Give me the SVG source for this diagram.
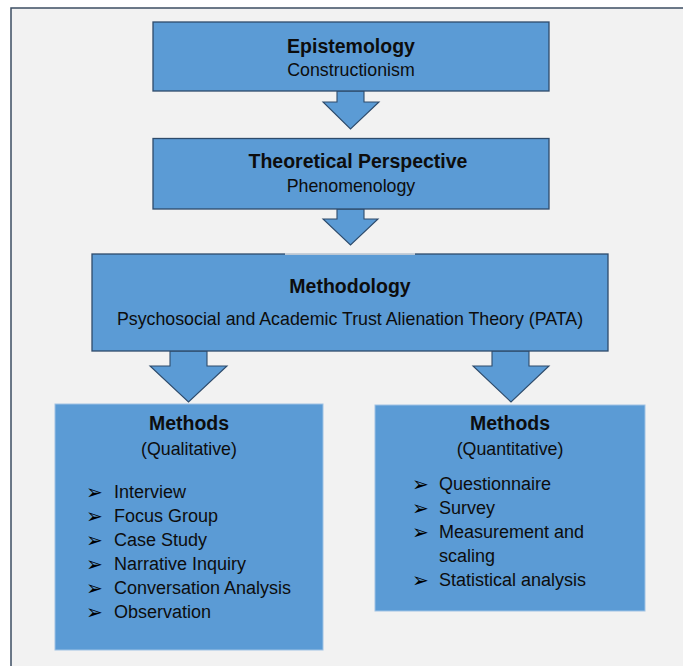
<svg xmlns="http://www.w3.org/2000/svg" width="683" height="666" viewBox="0 0 683 666">
  <style>
    .box { fill: #5b9bd5; stroke: #2e4b6b; stroke-width: 1.3; }
    .lbox { fill: #5b9bd5; stroke: #9fc2e4; stroke-width: 1; }
    .arrow { fill: #5b9bd5; stroke: #2e4b6b; stroke-width: 1.1; stroke-linejoin: miter; }
    text { font-family: "Liberation Sans", Arial, sans-serif; fill: #0d0d0d; }
    .t { font-size: 19.5px; font-weight: bold; text-anchor: middle; }
    .s { font-size: 17.8px; text-anchor: middle; }
    .i { font-size: 18px; }
    .b { font-family: "DejaVu Sans", sans-serif; font-size: 20px; fill: #000; }
  </style>
  <rect x="0" y="0" width="683" height="666" fill="#ffffff"/>
  <rect x="11" y="8" width="680" height="670" fill="#f2f2f2" stroke="#3c4e63" stroke-width="1.5"/>

  <g id="connectors">
    <polygon class="arrow" points="337,91 364,91 364,102 379,102 350.5,129 323,102 337,102"/>
    <polygon class="arrow" points="337,209 364,209 364,219 378,219 350.5,245 323,219 337,219"/>
    <polygon class="arrow" points="170,351 207,351 207,366 227,366 188.5,402 150,366 170,366"/>
    <polygon class="arrow" points="492,351 529,351 529,366 549,366 511,402 473,366 492,366"/>
  </g>

  <g id="epistemology">
    <rect class="box" x="153" y="22" width="396" height="69"/>
    <text class="t" x="351" y="53">Epistemology</text>
    <text class="s" x="351" y="76">Constructionism</text>
  </g>

  <g id="theoretical-perspective">
    <rect class="box" x="153" y="138.5" width="396" height="70.5"/>
    <text class="t" x="358" y="168">Theoretical Perspective</text>
    <text class="s" x="351" y="192">Phenomenology</text>
  </g>

  <g id="methodology">
    <rect class="box" x="92" y="254" width="516" height="97"/>
    <line x1="285" y1="254" x2="415" y2="254" stroke="#e4e8ec" stroke-width="1.5"/>
    <text class="t" x="350" y="293">Methodology</text>
    <text class="s" x="350" y="325">Psychosocial and Academic Trust Alienation Theory (PATA)</text>
  </g>

  <g id="methods-qualitative">
    <rect class="lbox" x="55" y="404" width="268" height="246"/>
    <text class="t" x="189" y="430">Methods</text>
    <text class="s" x="189" y="455">(Qualitative)</text>
    <text class="b" x="86" y="499">➢</text>
    <text class="i" x="114" y="498">Interview</text>
    <text class="b" x="86" y="523">➢</text>
    <text class="i" x="114" y="522">Focus Group</text>
    <text class="b" x="86" y="547">➢</text>
    <text class="i" x="114" y="546">Case Study</text>
    <text class="b" x="86" y="571">➢</text>
    <text class="i" x="114" y="570">Narrative Inquiry</text>
    <text class="b" x="86" y="595">➢</text>
    <text class="i" x="114" y="594">Conversation Analysis</text>
    <text class="b" x="86" y="619">➢</text>
    <text class="i" x="114" y="618">Observation</text>
  </g>

  <g id="methods-quantitative">
    <rect class="lbox" x="375" y="405" width="270" height="206"/>
    <text class="t" x="510" y="430">Methods</text>
    <text class="s" x="510" y="455">(Quantitative)</text>
    <text class="b" x="412" y="491">➢</text>
    <text class="i" x="439" y="490">Questionnaire</text>
    <text class="b" x="412" y="515">➢</text>
    <text class="i" x="439" y="514">Survey</text>
    <text class="b" x="412" y="539">➢</text>
    <text class="i" x="439" y="538">Measurement and</text>
    <text class="i" x="439" y="562">scaling</text>
    <text class="b" x="412" y="587">➢</text>
    <text class="i" x="439" y="586">Statistical analysis</text>
  </g>
</svg>
